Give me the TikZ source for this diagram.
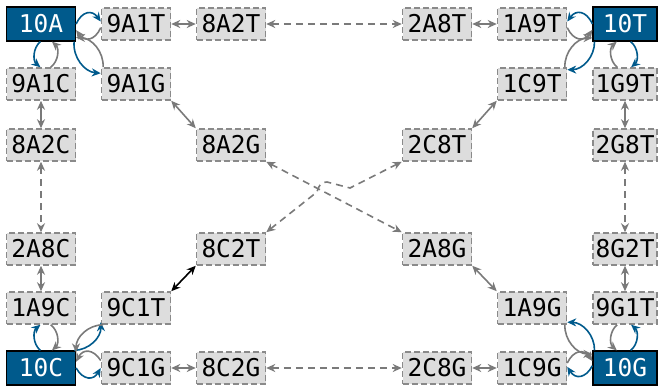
\documentclass[tikz,border=0pt]{standalone}
\usepackage{fontspec}
\setmonofont{DejaVu Sans Mono}
\usepackage{tikz}
\usetikzlibrary{arrows.meta}

\definecolor{cornerblue}{HTML}{005A8C}
\definecolor{boxgray}{HTML}{DDDDDD}
\definecolor{bordergray}{HTML}{8A8A8A}
\definecolor{edgegray}{HTML}{7A7A7A}

\tikzset{
  labelfont/.style = {font=\ttfamily\fontsize{24.5}{28}\selectfont},
  graybox/.style = {labelfont, draw=bordergray, fill=boxgray, line width=1.5pt,
    dash pattern=on 6pt off 3pt, minimum width=69pt, minimum height=32pt, inner sep=0pt},
  cornerbox/.style = {labelfont, draw=black, fill=cornerblue, text=white, line width=1.2pt,
    minimum width=69pt, minimum height=34pt, inner sep=0pt},
  tip/.style = {{Stealth[length=9pt,width=8pt]}-{Stealth[length=9pt,width=8pt]}},
  link/.style = {draw=edgegray, line width=1.6pt, tip},
  farlink/.style = {link, dash pattern=on 7pt off 5pt},
  bluearc/.style = {draw=cornerblue, line width=1.6pt, -{Stealth[length=9pt,width=8pt]}},
  grayarc/.style = {draw=edgegray, line width=1.6pt, -{Stealth[length=9pt,width=8pt]}}
}

\begin{document}
\begin{tikzpicture}[x=1pt, y=-1pt]
\useasboundingbox (0,0) rectangle (662,390);

% corner states
\node[cornerbox] (10A) at (41,24) {10A};
\node[cornerbox] (10C) at (41,368) {10C};
\node[cornerbox, minimum width=64pt] (10T) at (625,24) {10T};
\node[cornerbox, minimum width=64pt] (10G) at (625,368) {10G};

% intermediate states
\foreach \name/\x/\y in {9A1T/136/24, 8A2T/231/24, 2A8T/437/24, 1A9T/532/24,
    9A1C/41/84, 9A1G/136/84, 1C9T/532/84,
    8A2C/41/145, 8A2G/231/145, 2C8T/437/145,
    2A8C/41/249, 8C2T/231/249, 2A8G/437/249,
    1A9C/41/308, 9C1T/136/308, 1A9G/532/308,
    9C1G/136/368, 8C2G/231/368, 2C8G/437/368, 1C9G/532/368}
  \node[graybox] (\name) at (\x,\y) {\name};
\foreach \name/\y in {1G9T/84, 2G8T/145, 8G2T/249, 9G1T/308}
  \node[graybox, minimum width=64pt] (\name) at (625,\y) {\name};

% top row
\draw[link] (9A1T.east) -- (8A2T.west);
\draw[farlink] (8A2T.east) -- (2A8T.west);
\draw[link] (2A8T.east) -- (1A9T.west);
% bottom row
\draw[link] (9C1G.east) -- (8C2G.west);
\draw[farlink] (8C2G.east) -- (2C8G.west);
\draw[link] (2C8G.east) -- (1C9G.west);
% left column
\draw[link] (9A1C.south) -- (8A2C.north);
\draw[farlink] (8A2C.south) -- (2A8C.north);
\draw[link] (2A8C.south) -- (1A9C.north);
% right column
\draw[link] (1G9T.south) -- (2G8T.north);
\draw[farlink] (2G8T.south) -- (8G2T.north);
\draw[link] (8G2T.south) -- (9G1T.north);
% diagonals
\draw[link] (9A1G.south east) -- (8A2G.north west);
\draw[farlink] (8A2G.south east) -- (2A8G.north west);
\draw[link] (2A8G.south east) -- (1A9G.north west);
\draw[link] (1C9T.south west) -- (2C8T.north east);
\draw[farlink] (2C8T.south west) -- (350,188) -- (327,182)
  .. controls (321,182) and (319,185) .. (317,192) -- (8C2T.north east);
\draw[link, draw=black] (8C2T.south west) -- (9C1T.north east);

% loops round 10A
\draw[bluearc] (10A.0) to[bend left=60, looseness=1.5] (9A1T.176);
\draw[grayarc] (9A1T.186) to[bend left=60, looseness=1.5] (10A.-10);
\draw[bluearc] (10A.-92) to[bend right=50] (9A1C.92);
\draw[grayarc] (9A1C.60) to[bend right=50] (10A.-58);
\draw[bluearc] (10A.-28) to[bend right=45] (9A1G.163);
\draw[grayarc] (9A1G.153) to[bend right=45] (10A.-21);

% loops round 10T
\draw[bluearc] (10T.180) to[bend right=60, looseness=1.5] (1A9T.4);
\draw[grayarc] (1A9T.-6) to[bend right=60, looseness=1.5] (10T.190);
\draw[bluearc] (10T.210) to[bend left=45] (1C9T.22);
\draw[grayarc] (1C9T.27) to[bend left=45] (10T.203);
\draw[bluearc] (10T.-72) to[bend left=50] (1G9T.70);
\draw[grayarc] (1G9T.115) to[bend left=50] (10T.-115);

% loops round 10C
\draw[bluearc] (10C.92) to[bend left=50] (1A9C.-92);
\draw[grayarc] (1A9C.-60) to[bend left=50] (10C.58);
\draw[bluearc] (10C.28) to[bend right=45] (9C1T.-158);
\draw[grayarc] (9C1T.-153) to[bend right=45] (10C.24);
\draw[bluearc] (10C.0) to[bend right=60, looseness=1.5] (9C1G.180);
\draw[grayarc] (9C1G.168) to[bend right=60, looseness=1.5] (10C.10);

% loops round 10G
\draw[bluearc] (10G.150) to[bend right=45] (1A9G.-22);
\draw[grayarc] (1A9G.-27) to[bend right=45] (10G.157);
\draw[bluearc] (10G.72) to[bend right=50] (9G1T.-70);
\draw[grayarc] (9G1T.-115) to[bend right=50] (10G.115);
\draw[bluearc] (10G.176) to[bend left=60, looseness=1.5] (1C9G.2);
\draw[grayarc] (1C9G.8) to[bend left=60, looseness=1.5] (10G.168);
\end{tikzpicture}
\end{document}
